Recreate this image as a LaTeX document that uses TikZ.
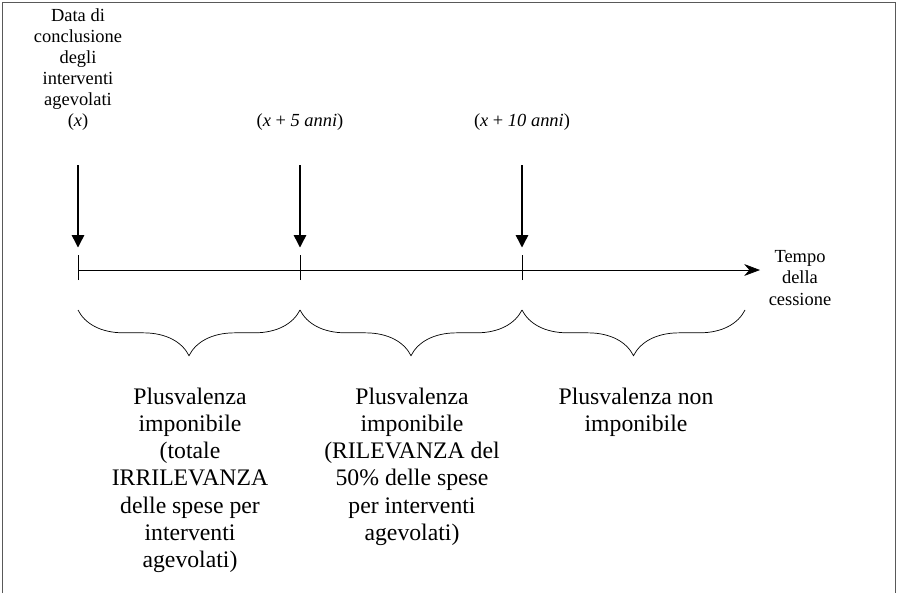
\documentclass[tikz,border=0pt]{standalone}
\usepackage{fontspec}
\setmainfont{Liberation Serif}
\usetikzlibrary{positioning, arrows.meta, decorations.pathreplacing}
\begin{document}
\begin{tikzpicture}[x=0.02cm, y=-0.02cm,
    small/.style={align=center, font=\fontsize{10.5}{12}\selectfont, inner sep=0pt},
    big/.style={align=center, font=\fontsize{13.5}{15.4}\selectfont, inner sep=0pt},
    brace/.style={decorate, decoration={brace, mirror, amplitude=26pt, aspect=0.5}}]
        % Frame
        \useasboundingbox (0,0) rectangle (897,593);
        \draw[gray!70!black] (2,593) -- (2,2) -- (895,2) -- (895,593);
        % Time axis
        \coordinate (t0) at (78,270);
        \coordinate (t5) at (300,270);
        \coordinate (t10) at (522,270);
        \coordinate (tend) at (760,270);
        \draw[-{Stealth[length=9pt]}] (t0) -- (tend);
        \foreach \t in {t0,t5,t10} {
            \draw ([yshift=-0.2cm]\t) -- ([yshift=0.3cm]\t);
            \draw[-{Triangle[length=7pt,width=7pt]}, thick] ([yshift=2.1cm]\t) -- ([yshift=0.45cm]\t);
        }
        % Labels above
        \node[small, anchor=south] (lx) at (78,131) {Data di\\conclusione\\degli\\interventi\\agevolati\\(\textit{x})};
        \node[small, anchor=south] (l5) at (300,131) {(\textit{x} + \textit{5 anni})};
        \node[small, anchor=south] (l10) at (522,131) {(\textit{x} + \textit{10 anni})};
        \node[small] (tempo) at (800,278) {Tempo\\della\\cessione};
        % Braces
        \coordinate (e) at (745,270);
        \draw[brace] ([yshift=-0.8cm]t0) -- ([yshift=-0.8cm]t5);
        \draw[brace] ([yshift=-0.8cm]t5) -- ([yshift=-0.8cm]t10);
        \draw[brace] ([yshift=-0.8cm]t10) -- ([yshift=-0.8cm]e);
        % Labels below
        \node[big, anchor=north] (p1) at (190,388) {Plusvalenza\\imponibile\\(totale\\IRRILEVANZA\\delle spese per\\interventi\\agevolati)};
        \node[big, anchor=north] (p2) at (412,388) {Plusvalenza\\imponibile\\(RILEVANZA del\\50\% delle spese\\per interventi\\agevolati)};
        \node[big, anchor=north] (p3) at (636,388) {Plusvalenza non\\imponibile};
    \end{tikzpicture}
\end{document}
